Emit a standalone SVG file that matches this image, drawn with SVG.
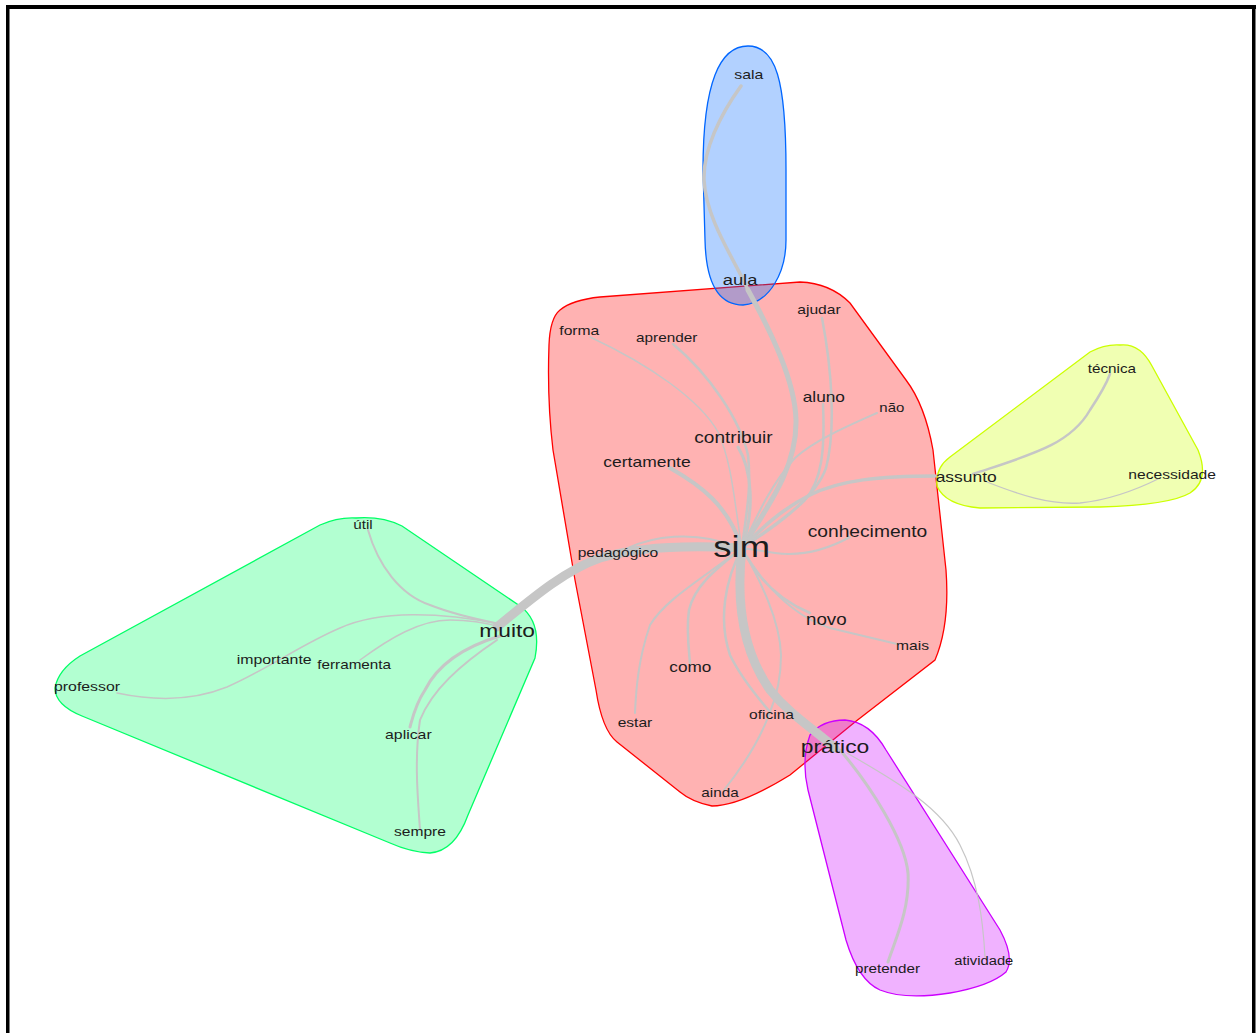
<svg xmlns="http://www.w3.org/2000/svg" width="1259" height="1033" viewBox="0 0 1259 1033">
<style>
.hull{stroke-width:1.3}
.e{fill:none;stroke:#c6c6c6;stroke-linecap:round}
.t{font-family:"Liberation Sans",Arial,sans-serif;fill:#1c1c1c}
</style>
<rect x="0" y="0" width="1259" height="1033" fill="#ffffff"/>
<g id="frame" fill="#000000">
<rect x="6" y="5" width="1250" height="4"/>
<rect x="6" y="5" width="3.5" height="1028"/>
<rect x="1252" y="5" width="3.5" height="1028"/>
</g>
<g id="hulls">
<path id="hull-red" class="hull" fill="#ff0000" fill-opacity="0.3" stroke="#ff0000" d="M 560,310 Q 572,300 600,297 L 800,282 Q 830,283 850,303 L 906,380 Q 925,405 933,450 L 946,570 Q 950,625 935,660 L 855,722 L 790,775 Q 740,806 712,806 Q 692,802 680,792 L 617,742 Q 602,730 596,690 L 575,580 L 553,450 Q 547,400 549,345 Q 550,318 560,310 Z"/>
<path id="hull-blue" class="hull" fill="#0066ff" fill-opacity="0.3" stroke="#0066ff" d="M 748,46 C 776,46 786,80 786,170 L 786,240 C 786,272 770,303 743,305 C 720,305 706,285 705,240 L 703,170 C 703,82 720,46 748,46 Z"/>
<path id="hull-yellow" class="hull" fill="#ccff00" fill-opacity="0.3" stroke="#ccff00" d="M 1120,345 Q 1140,343 1152,366 L 1198,450 Q 1210,480 1190,493 Q 1170,505 1100,507 L 980,508 Q 945,505 937,486 Q 935,468 950,457 L 1090,352 Q 1105,344 1120,345 Z"/>
<path id="hull-green" class="hull" fill="#00ff66" fill-opacity="0.3" stroke="#00ff66" d="M 356,518 Q 382,516 402,526 L 520,606 Q 542,622 535,658 L 468,815 Q 455,851 430,853 Q 410,852 390,843 L 82,716 Q 55,705 55,688 Q 58,670 80,656 L 320,525 Q 338,517 356,518 Z"/>
<path id="hull-purple" class="hull" fill="#cc00ff" fill-opacity="0.3" stroke="#cc00ff" d="M 845,720 Q 870,722 886,750 L 1000,930 Q 1015,958 1006,972 Q 990,986 950,993 Q 905,1000 880,990 Q 858,980 846,940 L 808,790 Q 801,760 810,735 Q 822,720 845,720 Z"/>
</g>
<g id="edges">
<path class="e" stroke-width="5" d="M 748,290 C 770,330 795,380 796,420 C 797,470 765,510 742,548"/>
<path class="e" stroke-width="3.5" d="M 741,86 C 720,115 703,150 704,180 C 706,220 735,260 748,290"/>
<path class="e" stroke-width="2.5" d="M 822,318 C 832,370 836,430 826,468 C 815,500 770,530 742,548"/>
<path class="e" stroke-width="2.5" d="M 823,404 C 825,450 822,480 805,500 C 790,515 760,535 742,548"/>
<path class="e" stroke-width="2" d="M 877,413 C 850,425 815,440 795,458 C 770,485 755,520 742,548"/>
<path class="e" stroke-width="3.5" d="M 935,476 C 880,476 840,480 810,495 C 780,510 760,530 742,548"/>
<path class="e" stroke-width="1.5" d="M 590,337 C 650,365 700,400 718,432 C 733,465 735,510 742,548"/>
<path class="e" stroke-width="2.5" d="M 673,344 C 710,375 740,420 748,455 C 752,490 745,520 742,548"/>
<path class="e" stroke-width="3" d="M 738,447 C 752,470 755,510 742,548"/>
<path class="e" stroke-width="4" d="M 670,468 C 700,485 728,505 742,548"/>
<path class="e" stroke-width="2" d="M 850,537 C 830,548 805,557 775,553 L 742,548"/>
<path class="e" stroke-width="2" d="M 628,548 C 650,538 690,528 742,548"/>
<path class="e" stroke-width="9" d="M 497,627 C 530,600 565,570 600,558 C 640,546 690,545 742,548"/>
<path class="e" stroke-width="2.5" d="M 742,548 C 755,575 775,598 810,613"/>
<path class="e" stroke-width="2" d="M 742,548 C 760,580 790,615 830,628 C 860,635 880,640 897,644"/>
<path class="e" stroke-width="2.5" d="M 742,548 C 715,570 695,585 689,610 C 686,630 689,650 690,663"/>
<path class="e" stroke-width="2" d="M 742,548 C 700,580 665,600 650,625 C 638,660 636,690 635,713"/>
<path class="e" stroke-width="2.5" d="M 742,548 C 725,580 718,620 730,655 C 742,680 760,700 770,712"/>
<path class="e" stroke-width="2" d="M 742,548 C 760,580 780,620 781,655 C 781,680 775,700 770,712"/>
<path class="e" stroke-width="2" d="M 770,712 C 760,740 740,770 724,790"/>
<path class="e" stroke-width="9" d="M 742,548 C 736,600 742,650 770,690 C 790,715 815,730 835,748"/>
<path class="e" stroke-width="3" d="M 840,750 C 870,785 905,840 908,873 C 910,910 895,940 888,962"/>
<path class="e" stroke-width="1.2" d="M 847,753 C 890,778 940,805 960,845 C 978,880 983,920 985,957"/>
<path class="e" stroke-width="2" d="M 368,530 C 378,565 400,595 430,605 C 455,615 480,620 500,624"/>
<path class="e" stroke-width="1.5" d="M 117,693 C 150,700 190,702 227,687 C 270,668 300,645 340,628 C 380,610 440,612 500,624"/>
<path class="e" stroke-width="1.5" d="M 360,660 C 390,638 420,620 450,620 C 475,620 490,624 500,627"/>
<path class="e" stroke-width="3" d="M 500,636 C 470,645 440,660 425,690 C 415,705 412,720 410,727"/>
<path class="e" stroke-width="2" d="M 497,640 C 460,665 432,690 420,720 C 414,760 418,800 420,830"/>
<path class="e" stroke-width="2.5" d="M 973,474 C 1030,455 1070,445 1090,410 C 1100,395 1106,385 1110,374"/>
<path class="e" stroke-width="1.3" d="M 987,482 C 1020,495 1050,505 1080,503 C 1110,500 1140,488 1160,478"/>
</g>
<g id="labels" class="t" lengthAdjust="spacingAndGlyphs">
<g id="n-sala"><text class="t" x="734.3" y="79.3" font-size="13" textLength="29" lengthAdjust="spacingAndGlyphs">sala</text></g>
<g id="n-aula"><text class="t" x="722.7" y="285" font-size="15.3" textLength="34.7" lengthAdjust="spacingAndGlyphs">aula</text></g>
<g id="n-ajudar"><text class="t" x="797.3" y="314" font-size="13.2" textLength="43.4" lengthAdjust="spacingAndGlyphs">ajudar</text></g>
<g id="n-forma"><text class="t" x="559.3" y="335" font-size="13" textLength="40" lengthAdjust="spacingAndGlyphs">forma</text></g>
<g id="n-aprender"><text class="t" x="636" y="342" font-size="12.7" textLength="61.3" lengthAdjust="spacingAndGlyphs">aprender</text></g>
<g id="n-aluno"><text class="t" x="802.7" y="401.7" font-size="14.2" textLength="42.3" lengthAdjust="spacingAndGlyphs">aluno</text></g>
<g id="n-nao"><text class="t" x="879.3" y="411.7" font-size="12.5" textLength="25" lengthAdjust="spacingAndGlyphs">não</text></g>
<g id="n-contribuir"><text class="t" x="694.3" y="443.3" font-size="15.8" textLength="78.4" lengthAdjust="spacingAndGlyphs">contribuir</text></g>
<g id="n-certamente"><text class="t" x="603.3" y="466.7" font-size="14.6" textLength="87.4" lengthAdjust="spacingAndGlyphs">certamente</text></g>
<g id="n-assunto"><text class="t" x="935.7" y="482" font-size="14.5" textLength="61" lengthAdjust="spacingAndGlyphs">assunto</text></g>
<g id="n-necessidade"><text class="t" x="1128.3" y="479.3" font-size="13.2" textLength="87.7" lengthAdjust="spacingAndGlyphs">necessidade</text></g>
<g id="n-tecnica"><text class="t" x="1087.7" y="372.7" font-size="12.7" textLength="48.3" lengthAdjust="spacingAndGlyphs">técnica</text></g>
<g id="n-sim"><text class="t" x="713.3" y="556.7" font-size="30" textLength="56.7" lengthAdjust="spacingAndGlyphs">sim</text></g>
<g id="n-conhecimento"><text class="t" x="807.7" y="536.7" font-size="16" textLength="119.6" lengthAdjust="spacingAndGlyphs">conhecimento</text></g>
<g id="n-pedagogico"><text class="t" x="577.7" y="557.3" font-size="13" textLength="80.6" lengthAdjust="spacingAndGlyphs">pedagógico</text></g>
<g id="n-muito"><text class="t" x="479.3" y="637.3" font-size="19" textLength="55.7" lengthAdjust="spacingAndGlyphs">muito</text></g>
<g id="n-novo"><text class="t" x="806" y="625" font-size="15.7" textLength="40.7" lengthAdjust="spacingAndGlyphs">novo</text></g>
<g id="n-mais"><text class="t" x="896" y="650" font-size="13" textLength="33" lengthAdjust="spacingAndGlyphs">mais</text></g>
<g id="n-como"><text class="t" x="669.3" y="671.7" font-size="14.3" textLength="42" lengthAdjust="spacingAndGlyphs">como</text></g>
<g id="n-estar"><text class="t" x="617.7" y="726.7" font-size="13" textLength="34.6" lengthAdjust="spacingAndGlyphs">estar</text></g>
<g id="n-oficina"><text class="t" x="749" y="719.3" font-size="13" textLength="45" lengthAdjust="spacingAndGlyphs">oficina</text></g>
<g id="n-pratico"><text class="t" x="800.7" y="752.7" font-size="18.5" textLength="68.6" lengthAdjust="spacingAndGlyphs">prático</text></g>
<g id="n-ainda"><text class="t" x="701.3" y="797.3" font-size="12.7" textLength="37.4" lengthAdjust="spacingAndGlyphs">ainda</text></g>
<g id="n-util"><text class="t" x="353.3" y="529.3" font-size="12.6" textLength="19.4" lengthAdjust="spacingAndGlyphs">útil</text></g>
<g id="n-importante"><text class="t" x="236.7" y="664.3" font-size="13.2" textLength="75" lengthAdjust="spacingAndGlyphs">importante</text></g>
<g id="n-ferramenta"><text class="t" x="317.3" y="669.3" font-size="12.7" textLength="73.7" lengthAdjust="spacingAndGlyphs">ferramenta</text></g>
<g id="n-professor"><text class="t" x="54" y="690.7" font-size="13.2" textLength="66" lengthAdjust="spacingAndGlyphs">professor</text></g>
<g id="n-aplicar"><text class="t" x="385" y="739.3" font-size="13.2" textLength="46.7" lengthAdjust="spacingAndGlyphs">aplicar</text></g>
<g id="n-sempre"><text class="t" x="394" y="836" font-size="13" textLength="52" lengthAdjust="spacingAndGlyphs">sempre</text></g>
<g id="n-pretender"><text class="t" x="855" y="972.7" font-size="12.7" textLength="65" lengthAdjust="spacingAndGlyphs">pretender</text></g>
<g id="n-atividade"><text class="t" x="954.3" y="965" font-size="12.3" textLength="59" lengthAdjust="spacingAndGlyphs">atividade</text></g>
</g>
</svg>
